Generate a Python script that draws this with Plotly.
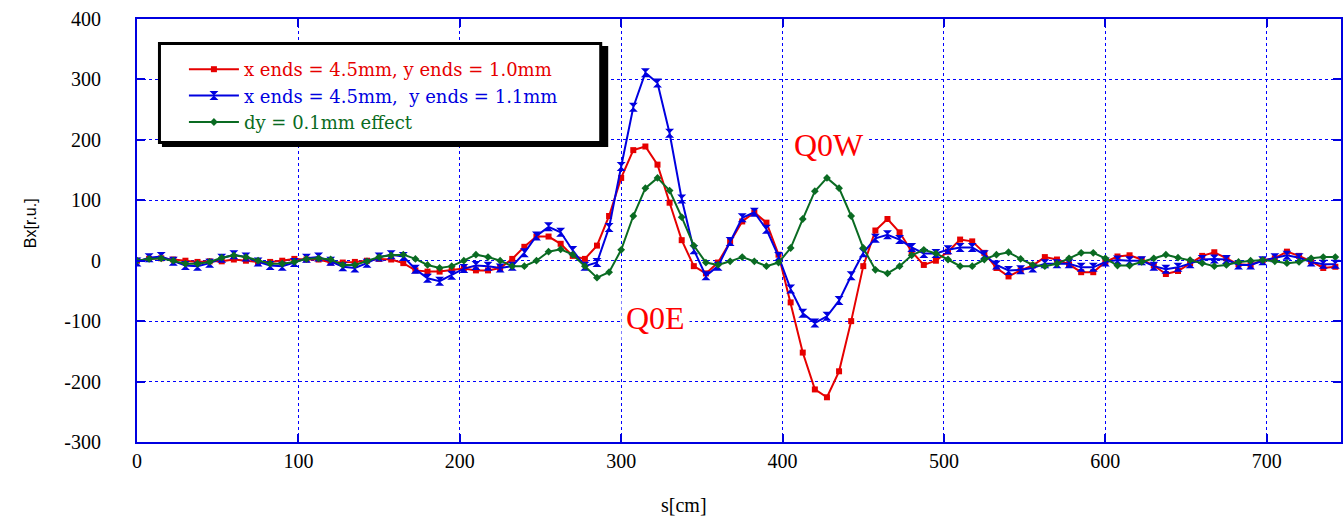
import plotly.graph_objects as go

step_cm = 7.5
s_cm = [round(i * step_cm, 2) for i in range(100)]

red_y10 = [0, 3, 4, 2, 0, -2, -1, -1, 2, 0,
           -2, -2, 0, 3, 2, 2, -3, -3, -2, 0,
           3, 2, -4, -16, -18, -18, -15, -13, -16, -16,
           -12, 3, 23, 40, 40, 28, 8, 3, 25, 74,
           137, 183, 189, 159, 96, 34, -9, -21, -3, 32,
           65, 80, 63, 10, -69, -152, -213, -226, -183, -100,
           -9, 50, 69, 47, 15, -7, 0, 15, 35, 32,
           13, -12, -26, -16, -8, 6, 2, -6, -19, -19,
           -2, 7, 9, 2, -8, -22, -17, -4, 8, 14,
           4, -6, -7, 1, 4, 15, 8, -1, -12, -10]

blue_y11 = [-2, 5, 7, -1, -8, -9, -4, 4, 10, 6,
            -2, -8, -9, -3, 4, 6, -1, -10, -12, -4,
            6, 10, 7, -14, -29, -34, -24, -13, -8, -9,
            -12, -9, 13, 41, 56, 47, 17, -9, -3, 55,
            156, 254, 311, 294, 211, 102, 18, -25, -9, 32,
            71, 80, 52, 7, -47, -87, -103, -92, -66, -25,
            13, 37, 43, 35, 22, 12, 12, 18, 22, 22,
            10, -7, -16, -15, -12, -5, -5, -5, -11, -11,
            -2, 1, 0, 0, -9, -14, -11, -5, 2, 3,
            2, -7, -7, 0, 5, 9, 5, -2, -6, -6]

green_dy = [0, 3, 4, 0, -5, -5, -2, 5, 9, 6,
            0, -5, -5, -2, 3, 4, 2, -7, -7, -1,
            6, 9, 10, 3, -7, -12, -9, 0, 10, 6,
            0, -9, -9, 0, 15, 19, 10, -9, -28, -19,
            18, 74, 120, 137, 116, 72, 25, -3, -7, -1,
            6, -1, -9, -3, 21, 69, 115, 137, 120, 74,
            21, -15, -21, -9, 9, 18, 12, 2, -9, -9,
            2, 10, 14, 3, -7, -9, -5, 4, 13, 13,
            4, -8, -8, -2, 4, 10, 5, 1, -4, -9,
            -7, -2, 0, 1, -1, -4, -2, 4, 6, 6]

x_ticks = [0, 100, 200, 300, 400, 500, 600, 700]
y_ticks = [-300, -200, -100, 0, 100, 200, 300, 400]
y_tick_text = ["-300", "-200", "-100", "0", "100", "200", "300", "400"]

RED = "#e60000"
BLUE = "#0000e0"
GREEN = "#0a6b22"
GRID = "#0000ff"
SERIF = "Liberation Serif"
LEGEND_FONT = "DejaVu Serif"

fig = go.Figure()
fig.add_trace(go.Scatter(
    x=s_cm, y=red_y10, mode="lines+markers",
    name=f"<span style='color:{RED}'>x ends = 4.5mm, y ends = 1.0mm</span>",
    line=dict(color=RED, width=2),
    marker=dict(symbol="square", size=6, color=RED)))
fig.add_trace(go.Scatter(
    x=s_cm, y=blue_y11, mode="lines+markers",
    name=f"<span style='color:{BLUE}'>x ends = 4.5mm,  y ends = 1.1mm</span>",
    line=dict(color=BLUE, width=2),
    marker=dict(symbol="hourglass", size=9, color=BLUE)))
fig.add_trace(go.Scatter(
    x=s_cm, y=green_dy, mode="lines+markers",
    name=f"<span style='color:{GREEN}'>dy = 0.1mm effect</span>",
    line=dict(color=GREEN, width=2),
    marker=dict(symbol="diamond", size=6, color=GREEN)))

axis_common = dict(
    showline=True, linecolor=BLUE, linewidth=2, mirror="allticks",
    ticks="inside", ticklen=8, tickwidth=2, tickcolor=BLUE,
    showgrid=True, gridcolor=GRID, gridwidth=1, griddash="dot",
    zeroline=False,
    tickfont=dict(family=SERIF, size=20, color="black"),
)

fig.update_xaxes(range=[0, 746], tickvals=x_ticks, **axis_common)
fig.update_yaxes(range=[-300, 400], tickvals=y_ticks, ticktext=y_tick_text,
                 ticklabelstandoff=30, **axis_common)


def px_x(p):
    return (p - 137) / 1206.0


def px_y(p):
    return (442.0 - p) / 423.0


shapes = [
    dict(type="rect", xref="paper", yref="paper",
         x0=px_x(162), x1=px_x(609), y0=px_y(147), y1=px_y(46),
         fillcolor="black", line=dict(width=0), layer="above"),
    dict(type="rect", xref="paper", yref="paper",
         x0=px_x(159.5), x1=px_x(601.5), y0=px_y(142.5), y1=px_y(43.5),
         fillcolor="white", line=dict(color="black", width=3), layer="above"),
]

annotations = [
    dict(x=428.6, y=191, xref="x", yref="y", text="Q0W", showarrow=False,
         font=dict(family=SERIF, size=32, color="#ff0000"), bgcolor="white",
         borderpad=4),
    dict(x=321, y=-95, xref="x", yref="y", text="Q0E", showarrow=False,
         font=dict(family=SERIF, size=32, color="#ff0000"), bgcolor="white",
         borderpad=4),
    dict(x=px_x(30), y=px_y(223), xref="paper", yref="paper", text="Bx[r.u.]",
         textangle=-90, showarrow=False, xanchor="center", yanchor="middle",
         font=dict(family="Liberation Sans", size=16, color="black")),
    dict(x=px_x(685), y=px_y(505), xref="paper", yref="paper", text="s[cm]",
         showarrow=False, xanchor="center", yanchor="middle",
         font=dict(family=SERIF, size=20, color="black")),
]

fig.update_layout(
    width=1343, height=517,
    margin=dict(l=137, r=0, t=19, b=75),
    plot_bgcolor="white", paper_bgcolor="white",
    shapes=shapes, annotations=annotations,
    showlegend=True,
    legend=dict(x=px_x(184), y=px_y(51), xanchor="left", yanchor="top",
                bgcolor="rgba(0,0,0,0)", borderwidth=0,
                font=dict(family=LEGEND_FONT, size=18, color="black"),
                itemwidth=50, tracegroupgap=0),
)

fig.write_html("out.html")
